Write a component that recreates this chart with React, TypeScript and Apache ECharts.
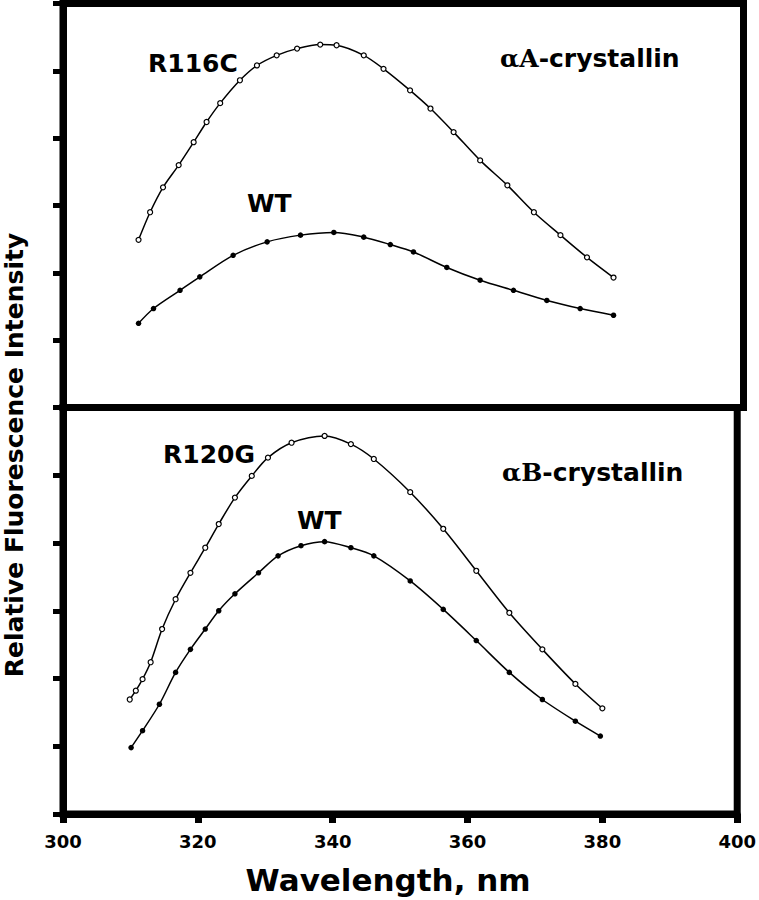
import React, { useEffect, useRef } from "react";
import * as echarts from "echarts";

// Top panel (αA-crystallin)
const r116cWl = [311.1, 312.8, 314.7, 317.0, 319.2, 321.1, 323.1, 326.0, 328.5, 331.4, 334.4, 337.8, 340.2, 344.2, 347.1, 351.0, 354.0, 357.4, 361.3, 365.3, 369.2, 373.1, 377.0, 380.9];
const r116cVal = [2.49, 2.9, 3.27, 3.6, 3.94, 4.24, 4.52, 4.86, 5.08, 5.23, 5.33, 5.39, 5.38, 5.23, 5.03, 4.71, 4.44, 4.09, 3.67, 3.3, 2.9, 2.56, 2.23, 1.93];
const wtAWl = [311.1, 313.3, 317.2, 320.1, 325.0, 330.0, 334.9, 339.8, 344.2, 348.1, 351.5, 356.4, 361.3, 366.2, 371.1, 376.0, 380.9];
const wtAVal = [1.25, 1.47, 1.74, 1.94, 2.26, 2.46, 2.56, 2.6, 2.53, 2.42, 2.31, 2.08, 1.89, 1.74, 1.59, 1.47, 1.37];

// Bottom panel (αB-crystallin)
const r120gWl = [309.9, 310.8, 311.8, 313.0, 314.7, 316.7, 318.9, 321.1, 323.1, 325.5, 328.0, 330.4, 333.9, 338.8, 342.7, 346.1, 351.5, 356.4, 361.3, 366.2, 371.1, 376.0, 380.0];
const r120gVal = [1.69, 1.82, 1.99, 2.24, 2.73, 3.17, 3.56, 3.93, 4.28, 4.67, 4.99, 5.26, 5.48, 5.58, 5.46, 5.24, 4.75, 4.21, 3.59, 2.97, 2.43, 1.92, 1.56];
const wtBWl = [310.1, 311.8, 314.3, 316.7, 318.9, 321.1, 323.1, 325.5, 329.0, 331.9, 335.3, 338.8, 342.7, 346.1, 351.5, 356.4, 361.3, 366.2, 371.1, 376.0, 379.7];
const wtBVal = [0.98, 1.23, 1.62, 2.09, 2.43, 2.73, 3.0, 3.25, 3.56, 3.81, 3.96, 4.02, 3.93, 3.81, 3.44, 3.02, 2.56, 2.09, 1.69, 1.37, 1.15];

const xTicks = [300, 320, 340, 360, 380, 400];

const zip = (a: number[], b: number[]) => a.map((x, i) => [x, b[i]]);

const FONT = "DejaVu Sans";

export default function App() {
  const ref = useRef<HTMLDivElement>(null);
  useEffect(() => {
    document.body.style.margin = "0";
    if (!ref.current) return;
    const chart = echarts.init(ref.current, null, { renderer: "svg" });
    const yAxisBase = {
      type: "value" as const,
      min: 0,
      max: 6,
      interval: 1,
      axisLabel: { show: false },
      splitLine: { show: false },
      axisLine: { show: true, lineStyle: { color: "#000", width: 7 } },
      axisTick: { show: true, length: 10, lineStyle: { color: "#000", width: 5 } },
    };
    const openSeries = (data: number[][], xi: number) => ({
      type: "line",
      xAxisIndex: xi,
      yAxisIndex: xi,
      data,
      smooth: 0.3,
      symbol: "circle",
      symbolSize: 5,
      lineStyle: { color: "#000", width: 1.5 },
      itemStyle: { color: "#fff", borderColor: "#000", borderWidth: 1.2 },
    });
    const filledSeries = (data: number[][], xi: number) => ({
      type: "line",
      xAxisIndex: xi,
      yAxisIndex: xi,
      data,
      smooth: 0.3,
      symbol: "circle",
      symbolSize: 5.5,
      lineStyle: { color: "#000", width: 1.5 },
      itemStyle: { color: "#000", borderColor: "#000", borderWidth: 0 },
    });
    const label = (text: string, x: number, y: number, rich?: any) => ({
      type: "text",
      x,
      y,
      style: {
        text,
        fill: "#000",
        font: `bold 25px "${FONT}"`,
        fontFamily: FONT,
        fontWeight: "bold",
        fontSize: 25,
        align: "left",
        verticalAlign: "middle",
        rich,
      },
    });
    const serifRich = {
      g: { fontFamily: "DejaVu Serif", fontWeight: "bold", fontSize: 25, fill: "#000" },
    };
    chart.setOption({
      animation: false,
      backgroundColor: "#fff",
      grid: [
        { left: 63, right: 15.5, top: 3.5, height: 404, show: true, borderColor: "#000", borderWidth: 7, backgroundColor: "transparent" },
        { left: 63, right: 17.5, top: 407.5, height: 406.5, show: true, borderColor: "#000", borderWidth: 7, backgroundColor: "transparent" },
      ],
      xAxis: [
        {
          type: "value",
          gridIndex: 0,
          min: 300,
          max: 400,
          interval: 20,
          axisLabel: { show: false },
          axisTick: { show: false },
          axisLine: { show: false },
          splitLine: { show: false },
        },
        {
          type: "value",
          gridIndex: 1,
          min: xTicks[0],
          max: xTicks[xTicks.length - 1],
          interval: 20,
          splitLine: { show: false },
          axisLine: { show: true, onZero: false, lineStyle: { color: "#000", width: 7 } },
          axisTick: { show: true, length: 9, lineStyle: { color: "#000", width: 7 } },
          axisLabel: { color: "#000", fontFamily: FONT, fontWeight: "bold", fontSize: 18, margin: 18 },
          name: "Wavelength, nm",
          nameLocation: "middle",
          nameGap: 50,
          nameTextStyle: { color: "#000", fontFamily: FONT, fontWeight: "bold", fontSize: 31, padding: [0, 24, 0, 0] },
        },
      ],
      yAxis: [
        { ...yAxisBase, gridIndex: 0 },
        { ...yAxisBase, gridIndex: 1 },
      ],
      series: [
        openSeries(zip(r116cWl, r116cVal), 0),
        filledSeries(zip(wtAWl, wtAVal), 0),
        openSeries(zip(r120gWl, r120gVal), 1),
        filledSeries(zip(wtBWl, wtBVal), 1),
      ],
      graphic: [
        label("R116C", 148, 63),
        label("WT", 247, 203),
        label("{g|αA}-crystallin", 500, 58, serifRich),
        label("R120G", 163, 454),
        label("WT", 297, 520),
        label("{g|αB}-crystallin", 502, 472, serifRich),
        {
          type: "text",
          x: 14,
          y: 455,
          rotation: Math.PI / 2,
          style: {
            text: "Relative Fluorescence Intensity",
            fill: "#000",
            fontFamily: FONT,
            fontWeight: "bold",
            fontSize: 25,
            align: "center",
            verticalAlign: "middle",
          },
        },
      ],
    });
    return () => chart.dispose();
  }, []);
  return <div ref={ref} style={{ width: 759, height: 900 }} />;
}
